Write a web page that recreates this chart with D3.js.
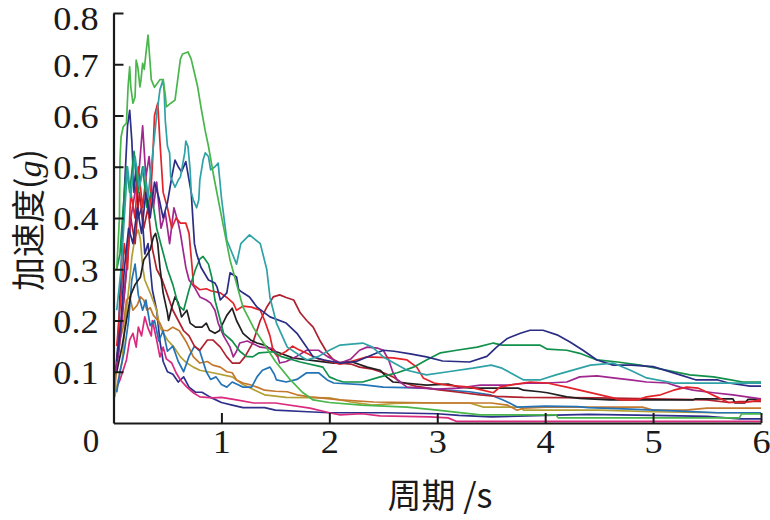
<!DOCTYPE html>
<html><head><meta charset="utf-8">
<script src="https://cdn.jsdelivr.net/npm/d3@7"></script>
<style>
html,body{margin:0;padding:0;background:#fff;}
svg{display:block;}
.num{font-family:"Liberation Serif","Times New Roman",serif;}
.cjk{font-family:"Noto Sans CJK SC",sans-serif;}
</style></head>
<body>
<svg id="chart" width="770" height="520"></svg>
<script>
// ---- data (period s, acceleration g) ----
const xTicks = [1, 2, 3, 4, 5, 6];
const yTicks = [0.1, 0.2, 0.3, 0.4, 0.5, 0.6, 0.7, 0.8];
const xTitle = "周期 /s";
const yTitleMain = "加速度(";
const yTitleUnit = "g";
const yTitleEnd = ")";

const seriesNames = ["indigo","pink","olive","orange","blue","darkred","black","purple","red","darkgreen","navy","teal","lightgreen"];
const seriesColors = ["#2e2f8a","#d92a7e","#b39e34","#c4782e","#2473b7","#b0212f","#231f20","#a0278e","#e2232a","#10904a","#2b2d84","#2ea2a6","#48b64b"];

const indigo = [[0.01,0.08],[0.04,0.15],[0.07,0.3],[0.1,0.45],[0.13,0.58],[0.15,0.61],[0.17,0.55],[0.19,0.45],[0.21,0.5],[0.23,0.4],[0.26,0.42],[0.29,0.33],[0.32,0.35],[0.36,0.26],[0.4,0.22],[0.43,0.16],[0.46,0.12],[0.5,0.1],[0.55,0.095],[0.6,0.08],[0.65,0.09],[0.7,0.07],[0.76,0.06],[0.82,0.06],[0.9,0.05],[1.0,0.04],[1.1,0.035],[1.2,0.03],[1.4,0.03],[1.5,0.025],[1.8,0.022],[2.0,0.02],[2.5,0.02],[3.0,0.018],[3.2,0.015],[3.5,0.012],[4.0,0.015],[4.4,0.017],[5.0,0.015],[5.5,0.013],[5.8,0.008],[6.0,0.008]];
const pink = [[0.01,0.059],[0.06,0.084],[0.12,0.123],[0.15,0.162],[0.18,0.175],[0.21,0.148],[0.23,0.187],[0.26,0.17],[0.29,0.207],[0.32,0.185],[0.35,0.17],[0.36,0.2],[0.4,0.162],[0.43,0.129],[0.46,0.148],[0.49,0.125],[0.54,0.117],[0.58,0.098],[0.62,0.084],[0.68,0.07],[0.74,0.059],[0.8,0.051],[0.92,0.049],[1.0,0.05],[1.14,0.045],[1.3,0.039],[1.5,0.039],[1.82,0.029],[2.0,0.02],[2.1,0.016],[2.3,0.018],[2.47,0.014],[2.93,0.012],[3.1,0.01],[3.18,0.003],[6.0,0.003]];
const olive = [[0.01,0.05],[0.04,0.08],[0.08,0.12],[0.11,0.2],[0.15,0.279],[0.17,0.324],[0.2,0.363],[0.23,0.377],[0.25,0.357],[0.27,0.304],[0.29,0.279],[0.34,0.254],[0.4,0.22],[0.43,0.187],[0.5,0.162],[0.56,0.148],[0.62,0.129],[0.68,0.117],[0.74,0.109],[0.8,0.103],[0.92,0.098],[1.1,0.09],[1.2,0.075],[1.3,0.065],[1.4,0.055],[1.6,0.05],[2.0,0.049],[2.2,0.041],[2.4,0.035],[2.6,0.038],[2.8,0.039],[3.3,0.039],[3.43,0.031],[3.77,0.031],[3.8,0.025],[4.5,0.025],[5.0,0.022],[5.6,0.02],[6.0,0.02]];
const orange = [[0.01,0.06],[0.03,0.109],[0.06,0.162],[0.09,0.187],[0.12,0.24],[0.15,0.246],[0.18,0.22],[0.22,0.23],[0.25,0.246],[0.28,0.24],[0.31,0.22],[0.34,0.225],[0.37,0.21],[0.43,0.195],[0.46,0.181],[0.5,0.18],[0.55,0.187],[0.61,0.18],[0.68,0.156],[0.74,0.129],[0.8,0.117],[0.87,0.12],[0.92,0.113],[0.99,0.109],[1.05,0.1],[1.1,0.098],[1.14,0.084],[1.2,0.078],[1.26,0.075],[1.33,0.07],[1.4,0.064],[1.5,0.062],[1.61,0.061],[1.7,0.055],[1.82,0.051],[2.1,0.045],[2.41,0.041],[3.03,0.039],[3.5,0.039],[3.65,0.035],[3.74,0.025],[3.8,0.029],[4.0,0.031],[4.9,0.031],[5.0,0.025],[5.3,0.025],[5.5,0.029],[6.0,0.029]];
const blue = [[0.03,0.06],[0.06,0.1],[0.1,0.14],[0.14,0.2],[0.17,0.28],[0.2,0.31],[0.23,0.25],[0.27,0.22],[0.3,0.24],[0.34,0.19],[0.38,0.2],[0.42,0.16],[0.46,0.18],[0.5,0.14],[0.55,0.15],[0.6,0.12],[0.65,0.1],[0.7,0.13],[0.75,0.15],[0.8,0.14],[0.86,0.1],[0.9,0.085],[0.95,0.09],[1.0,0.075],[1.05,0.07],[1.1,0.08],[1.15,0.075],[1.2,0.07],[1.28,0.07],[1.33,0.09],[1.38,0.103],[1.45,0.109],[1.49,0.095],[1.51,0.084],[1.6,0.08],[1.7,0.085],[1.79,0.098],[1.9,0.098],[1.98,0.084],[2.04,0.078],[2.3,0.075],[2.5,0.07],[2.9,0.068],[3.09,0.064],[3.3,0.061],[3.49,0.055],[3.61,0.045],[3.67,0.039],[3.74,0.031],[4.0,0.033],[4.3,0.032],[4.4,0.03],[4.79,0.027],[5.25,0.023],[5.6,0.02],[6.0,0.02]];
const darkred = [[0.03,0.12],[0.06,0.18],[0.1,0.25],[0.13,0.32],[0.16,0.4],[0.2,0.35],[0.24,0.45],[0.28,0.38],[0.32,0.42],[0.36,0.34],[0.4,0.3],[0.45,0.28],[0.5,0.25],[0.55,0.22],[0.6,0.2],[0.65,0.18],[0.7,0.17],[0.75,0.15],[0.8,0.142],[0.87,0.162],[0.92,0.162],[0.99,0.148],[1.05,0.129],[1.1,0.117],[1.17,0.117],[1.22,0.13],[1.29,0.156],[1.36,0.2],[1.42,0.226],[1.48,0.246],[1.54,0.25],[1.6,0.245],[1.67,0.24],[1.73,0.215],[1.79,0.2],[1.85,0.187],[1.91,0.162],[1.98,0.137],[2.04,0.123],[2.1,0.117],[2.2,0.115],[2.28,0.109],[2.4,0.105],[2.5,0.098],[2.59,0.09],[2.66,0.08],[2.8,0.072],[3.0,0.065],[3.2,0.06],[3.4,0.055],[3.55,0.052],[3.8,0.05],[4.5,0.049],[5.0,0.047],[5.5,0.045],[5.7,0.04],[5.8,0.042],[6.0,0.042]];
const black = [[0.03,0.1],[0.08,0.15],[0.12,0.2],[0.16,0.25],[0.2,0.27],[0.25,0.285],[0.28,0.318],[0.34,0.338],[0.37,0.363],[0.39,0.37],[0.41,0.35],[0.43,0.304],[0.46,0.254],[0.5,0.215],[0.51,0.2],[0.54,0.226],[0.57,0.246],[0.6,0.235],[0.63,0.207],[0.68,0.22],[0.71,0.195],[0.76,0.187],[0.82,0.187],[0.86,0.195],[0.89,0.181],[0.94,0.175],[0.98,0.18],[1.05,0.21],[1.1,0.224],[1.14,0.2],[1.2,0.175],[1.27,0.162],[1.33,0.156],[1.4,0.152],[1.47,0.142],[1.56,0.135],[1.66,0.127],[1.8,0.123],[2.04,0.117],[2.2,0.12],[2.35,0.109],[2.47,0.103],[2.53,0.09],[2.59,0.08],[2.7,0.078],[2.9,0.074],[3.1,0.076],[3.2,0.07],[3.33,0.068],[3.75,0.068],[3.8,0.064],[3.95,0.061],[4.02,0.059],[4.2,0.051],[4.32,0.048],[4.6,0.045],[5.37,0.045],[5.39,0.047],[5.74,0.047],[5.76,0.039],[5.85,0.039],[5.88,0.046],[6.0,0.047]];
const purple = [[0.02,0.1],[0.05,0.14],[0.08,0.2],[0.12,0.3],[0.16,0.4],[0.2,0.45],[0.24,0.5],[0.27,0.58],[0.3,0.48],[0.33,0.52],[0.37,0.42],[0.4,0.47],[0.44,0.38],[0.48,0.41],[0.52,0.35],[0.56,0.42],[0.6,0.39],[0.62,0.37],[0.67,0.304],[0.7,0.279],[0.75,0.265],[0.8,0.246],[0.86,0.24],[0.9,0.234],[0.94,0.22],[0.97,0.195],[1.02,0.17],[1.08,0.148],[1.11,0.129],[1.14,0.14],[1.17,0.156],[1.24,0.16],[1.36,0.148],[1.48,0.145],[1.51,0.137],[1.54,0.117],[1.6,0.12],[1.69,0.129],[1.79,0.142],[1.9,0.142],[1.98,0.13],[2.1,0.117],[2.2,0.125],[2.28,0.142],[2.35,0.148],[2.45,0.146],[2.5,0.142],[2.55,0.123],[2.59,0.098],[2.63,0.084],[2.72,0.07],[3.0,0.066],[3.2,0.068],[3.4,0.074],[3.65,0.074],[3.85,0.078],[4.02,0.078],[4.2,0.08],[4.32,0.09],[4.48,0.092],[4.63,0.088],[4.79,0.084],[4.94,0.08],[5.13,0.078],[5.25,0.07],[5.37,0.064],[5.56,0.059],[5.74,0.055],[5.9,0.05],[6.0,0.047]];
const red = [[0.03,0.15],[0.07,0.25],[0.1,0.35],[0.13,0.3],[0.16,0.45],[0.2,0.4],[0.23,0.5],[0.27,0.42],[0.3,0.48],[0.33,0.4],[0.36,0.5],[0.38,0.6],[0.41,0.624],[0.43,0.55],[0.46,0.45],[0.5,0.42],[0.54,0.38],[0.58,0.4],[0.62,0.39],[0.67,0.39],[0.7,0.37],[0.73,0.3],[0.74,0.27],[0.8,0.26],[0.86,0.262],[0.9,0.258],[0.99,0.254],[1.05,0.245],[1.11,0.234],[1.14,0.22],[1.2,0.228],[1.28,0.226],[1.36,0.22],[1.4,0.2],[1.45,0.17],[1.48,0.14],[1.52,0.13],[1.6,0.14],[1.66,0.15],[1.7,0.145],[1.8,0.135],[1.9,0.125],[2.0,0.12],[2.1,0.115],[2.2,0.12],[2.35,0.129],[2.59,0.127],[2.72,0.123],[2.81,0.109],[2.87,0.088],[2.97,0.078],[3.09,0.074],[3.3,0.07],[3.42,0.064],[3.52,0.059],[3.58,0.07],[3.7,0.075],[3.86,0.08],[4.02,0.078],[4.2,0.07],[4.32,0.064],[4.51,0.055],[4.63,0.049],[4.69,0.045],[4.85,0.045],[4.94,0.051],[5.07,0.055],[5.19,0.064],[5.31,0.07],[5.42,0.068],[5.5,0.06],[5.6,0.05],[5.7,0.04],[5.85,0.04],[6.0,0.045]];
const darkgreen = [[0.03,0.3],[0.06,0.33],[0.09,0.42],[0.12,0.5],[0.15,0.45],[0.19,0.53],[0.23,0.45],[0.27,0.5],[0.31,0.42],[0.35,0.45],[0.4,0.38],[0.45,0.34],[0.5,0.3],[0.55,0.27],[0.6,0.23],[0.65,0.22],[0.7,0.26],[0.76,0.3],[0.8,0.32],[0.83,0.325],[0.88,0.31],[0.91,0.285],[0.94,0.24],[0.99,0.2],[1.02,0.175],[1.1,0.16],[1.17,0.14],[1.23,0.13],[1.29,0.129],[1.35,0.137],[1.48,0.139],[1.55,0.13],[1.73,0.119],[1.94,0.109],[2.0,0.09],[2.07,0.084],[2.13,0.08],[2.31,0.08],[2.47,0.09],[2.63,0.098],[2.78,0.109],[2.9,0.123],[3.03,0.137],[3.18,0.142],[3.37,0.148],[3.52,0.156],[3.6,0.152],[3.95,0.152],[4.02,0.144],[4.2,0.142],[4.32,0.136],[4.48,0.123],[4.67,0.119],[4.88,0.113],[5.13,0.103],[5.34,0.094],[5.56,0.09],[5.72,0.084],[5.83,0.08],[6.0,0.08]];
const navy = [[0.03,0.12],[0.07,0.2],[0.1,0.3],[0.14,0.38],[0.18,0.35],[0.22,0.42],[0.26,0.37],[0.3,0.45],[0.34,0.4],[0.38,0.47],[0.42,0.44],[0.46,0.4],[0.5,0.43],[0.54,0.48],[0.57,0.513],[0.6,0.5],[0.63,0.49],[0.67,0.51],[0.72,0.45],[0.75,0.35],[0.77,0.33],[0.81,0.304],[0.88,0.279],[0.94,0.273],[0.96,0.265],[0.99,0.24],[1.05,0.254],[1.08,0.293],[1.14,0.285],[1.16,0.26],[1.2,0.254],[1.26,0.246],[1.33,0.226],[1.45,0.207],[1.6,0.195],[1.7,0.175],[1.79,0.148],[1.85,0.129],[1.95,0.123],[2.1,0.117],[2.25,0.12],[2.4,0.133],[2.5,0.142],[2.6,0.14],[2.75,0.135],[2.9,0.129],[3.05,0.121],[3.3,0.119],[3.46,0.13],[3.55,0.148],[3.65,0.165],[3.77,0.175],[3.86,0.181],[3.98,0.181],[4.11,0.172],[4.23,0.158],[4.35,0.142],[4.48,0.123],[4.63,0.113],[4.8,0.113],[5.0,0.11],[5.25,0.094],[5.4,0.084],[5.6,0.084],[5.7,0.078],[5.9,0.072],[6.0,0.072]];
const teal = [[0.03,0.22],[0.07,0.3],[0.1,0.4],[0.13,0.5],[0.16,0.44],[0.2,0.52],[0.24,0.46],[0.28,0.5],[0.32,0.44],[0.36,0.52],[0.4,0.6],[0.43,0.65],[0.46,0.67],[0.47,0.644],[0.48,0.59],[0.5,0.54],[0.52,0.527],[0.53,0.48],[0.57,0.46],[0.6,0.474],[0.62,0.48],[0.66,0.527],[0.67,0.55],[0.69,0.54],[0.71,0.494],[0.72,0.45],[0.74,0.435],[0.77,0.42],[0.79,0.435],[0.8,0.474],[0.83,0.513],[0.85,0.527],[0.88,0.52],[0.9,0.494],[0.94,0.5],[0.97,0.507],[1.0,0.44],[1.05,0.357],[1.14,0.31],[1.18,0.35],[1.26,0.367],[1.36,0.35],[1.42,0.3],[1.45,0.245],[1.51,0.195],[1.61,0.148],[1.79,0.123],[1.9,0.13],[2.0,0.142],[2.1,0.152],[2.31,0.156],[2.4,0.148],[2.5,0.129],[2.72,0.103],[2.9,0.094],[3.1,0.1],[3.33,0.107],[3.5,0.113],[3.6,0.107],[3.8,0.084],[3.95,0.084],[4.1,0.094],[4.42,0.113],[4.63,0.117],[4.79,0.103],[4.94,0.088],[5.19,0.078],[6.0,0.078]];
const lightgreen = [[0.03,0.3],[0.055,0.4],[0.06,0.513],[0.07,0.558],[0.09,0.578],[0.12,0.585],[0.135,0.656],[0.15,0.695],[0.16,0.656],[0.18,0.624],[0.2,0.636],[0.21,0.708],[0.225,0.695],[0.245,0.656],[0.255,0.67],[0.27,0.702],[0.285,0.69],[0.3,0.72],[0.32,0.757],[0.34,0.7],[0.35,0.67],[0.38,0.655],[0.43,0.67],[0.46,0.67],[0.48,0.64],[0.49,0.617],[0.53,0.624],[0.57,0.63],[0.62,0.71],[0.64,0.72],[0.69,0.724],[0.72,0.71],[0.75,0.683],[0.78,0.656],[0.81,0.617],[0.85,0.57],[0.88,0.54],[0.93,0.48],[0.99,0.415],[1.08,0.318],[1.2,0.226],[1.3,0.185],[1.39,0.156],[1.5,0.12],[1.64,0.084],[1.75,0.06],[1.85,0.045],[2.0,0.04],[2.3,0.035],[2.72,0.031],[3.0,0.025],[3.4,0.016],[4.1,0.016],[4.12,0.01],[5.8,0.01],[5.82,0.018],[6.0,0.018]];

const seriesData = [indigo,pink,olive,orange,blue,darkred,black,purple,red,darkgreen,navy,teal,lightgreen];

// ---- drawing ----
const svg = d3.select("#chart");
const x = d3.scaleLinear().domain([0, 6]).range([113.5, 761]);
const y = d3.scaleLinear().domain([0, 0.8]).range([423, 13]);

const line = d3.line().x(d => x(d[0])).y(d => y(d[1]));
svg.append("g").selectAll("path").data(seriesData).join("path")
  .attr("d", line)
  .attr("fill", "none")
  .attr("stroke", (d, i) => seriesColors[i])
  .attr("stroke-width", 1.7)
  .attr("stroke-linejoin", "round");

const yAxis = d3.axisLeft(y).tickValues(yTicks).tickSizeInner(-10).tickSizeOuter(0).tickPadding(13.5).tickFormat(d3.format(".1f"));
const gy = svg.append("g").attr("transform", `translate(${x(0)},0)`).call(yAxis);
const xAxis = d3.axisBottom(x).tickValues(xTicks).tickSizeInner(-10).tickSizeOuter(0).tickPadding(8).tickFormat(d3.format("d"));
const gx = svg.append("g").attr("transform", `translate(0,${y(0)})`).call(xAxis);

[gx, gy].forEach(g => {
  g.attr("font-family", null).attr("font-size", null);
  g.select(".domain").attr("stroke", "#1a1a1a").attr("stroke-width", 2.2);
  g.selectAll(".tick line").attr("stroke", "#1a1a1a").attr("stroke-width", 2);
  g.selectAll(".tick text").attr("class", "num").style("font-size", "33px").attr("fill", "#1a1a1a")
    .attr("transform", "scale(1.1,1)");
});
gx.selectAll(".tick text").attr("dy", "0.71em").attr("y", 7);
gy.selectAll(".tick text").attr("dy", "0.36em");
gy.selectAll(".tick").filter(d => d === 0.8).select("text").attr("dy", "0.5em");

svg.append("text").attr("class", "num").attr("x", 91).attr("y", 440).attr("dy", "0.36em")
  .attr("text-anchor", "middle").style("font-size", "33px").attr("fill", "#1a1a1a").text("0");

svg.append("text").attr("class", "cjk").attr("x", 440).attr("y", 496).attr("dy", "0.36em")
  .attr("text-anchor", "middle").style("font-size", "34px").attr("fill", "#1a1a1a").text(xTitle);

const yt = svg.append("text").attr("class", "cjk").attr("transform", "translate(27,220) rotate(-90)").attr("dy", "0.4em")
  .attr("text-anchor", "middle").style("font-size", "34px").attr("fill", "#1a1a1a");
yt.append("tspan").text(yTitleMain);
yt.append("tspan").attr("class", "num").style("font-style", "italic").text(yTitleUnit);
yt.append("tspan").text(yTitleEnd);
</script>
</body></html>
